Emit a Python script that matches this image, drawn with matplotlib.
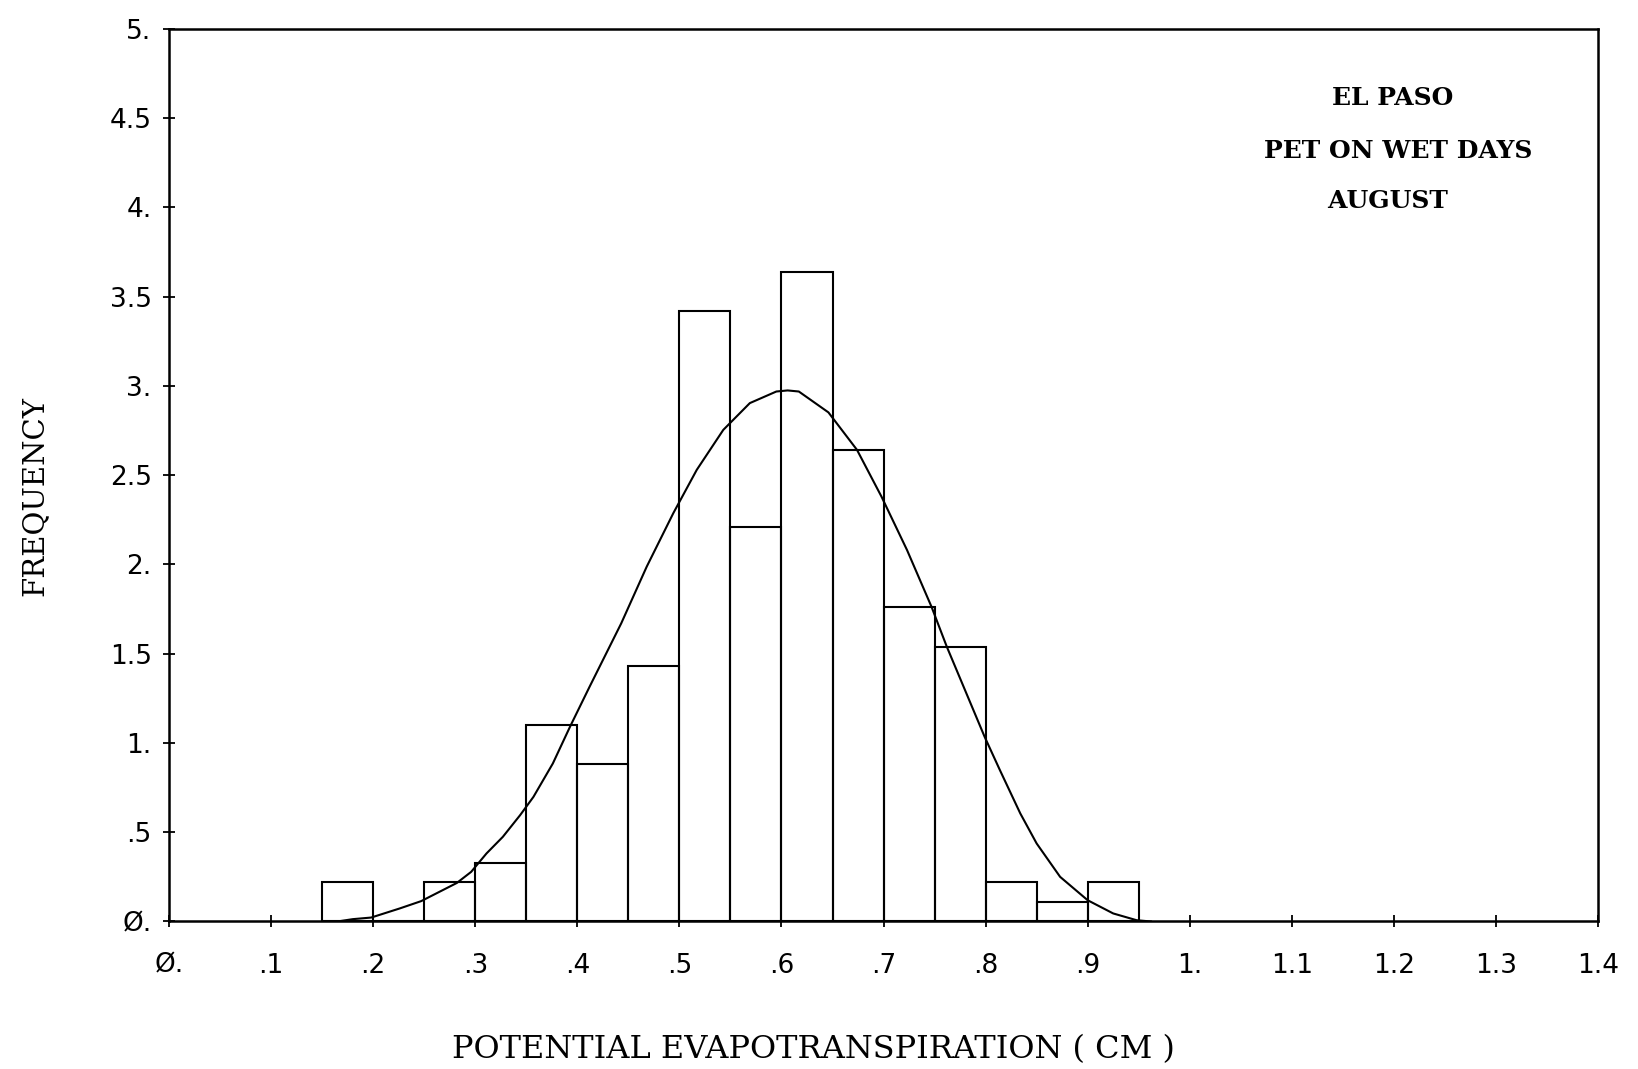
import matplotlib
matplotlib.use("Agg")
import matplotlib.pyplot as plt
import numpy as np

# histogram of PET on wet days, El Paso, August (bin width 0.05 cm)
bin_left = [0.15, 0.20, 0.25, 0.30, 0.35, 0.40, 0.45, 0.50,
            0.55, 0.60, 0.65, 0.70, 0.75, 0.80, 0.85, 0.90]
freq = [0.22, 0.0, 0.22, 0.33, 1.10, 0.88, 1.43, 3.42,
        2.21, 3.64, 2.64, 1.76, 1.54, 0.22, 0.11, 0.22]
bin_width = 0.05

# fitted curve
curve_x = [0.165, 0.180, 0.198, 0.226, 0.247, 0.282, 0.296, 0.311, 0.327,
           0.344, 0.357, 0.376, 0.393, 0.412, 0.443, 0.468, 0.494, 0.517,
           0.543, 0.569, 0.595, 0.606, 0.617, 0.646, 0.674, 0.698, 0.723,
           0.747, 0.762, 0.799, 0.814, 0.834, 0.850, 0.873, 0.900, 0.925,
           0.948, 0.962]
curve_y = [0.0, 0.013, 0.022, 0.073, 0.114, 0.216, 0.278, 0.381, 0.474,
           0.596, 0.698, 0.885, 1.093, 1.315, 1.670, 1.988, 2.287, 2.530,
           2.754, 2.904, 2.969, 2.975, 2.969, 2.852, 2.642, 2.380, 2.081,
           1.763, 1.539, 1.035, 0.848, 0.605, 0.437, 0.250, 0.119, 0.045,
           0.007, 0.0]

xticks = [0.0, 0.1, 0.2, 0.3, 0.4, 0.5, 0.6, 0.7, 0.8, 0.9, 1.0, 1.1, 1.2, 1.3, 1.4]
xtick_labels = ["Ø.", ".1", ".2", ".3", ".4", ".5", ".6", ".7", ".8", ".9",
                "1.", "1.1", "1.2", "1.3", "1.4"]
yticks = [0.0, 0.5, 1.0, 1.5, 2.0, 2.5, 3.0, 3.5, 4.0, 4.5, 5.0]
ytick_labels = ["Ø.", ".5", "1.", "1.5", "2.", "2.5", "3.", "3.5", "4.", "4.5", "5."]

notes = ["EL PASO", "PET ON WET DAYS", "AUGUST"]

fig = plt.figure(figsize=(16.38, 10.69), dpi=100)
ax = fig.add_axes([0.1032, 0.138, 0.8724, 0.8349])

ax.bar(bin_left, freq, width=bin_width, align="edge", fill=False,
       edgecolor="black", linewidth=1.5)
ax.plot(curve_x, curve_y, color="black", linewidth=1.5)

ax.set_xlim(0, 1.4)
ax.set_ylim(0, 5)
ax.set_xticks(xticks)
ax.set_xticklabels(xtick_labels)
ax.set_yticks(yticks)
ax.set_yticklabels(ytick_labels)
ax.tick_params(axis="both", direction="inout", length=9, width=1.3,
               labelsize=19, colors="black")
ax.tick_params(axis="x", pad=18)
ax.tick_params(axis="y", pad=8)
for s in ax.spines.values():
    s.set_linewidth(1.8)

# station / variable notes in upper right
note_x = [1.199, 1.204, 1.194]
note_y = [4.613, 4.314, 4.039]
for t, nx, ny in zip(notes, note_x, note_y):
    ax.text(nx, ny, t, ha="center", va="center", fontsize=18,
            family="DejaVu Serif", fontweight="semibold")

fig.text(0.4963, 0.018, "POTENTIAL EVAPOTRANSPIRATION ( CM )", ha="center",
         va="center", fontsize=23, family="DejaVu Serif")
fig.text(0.021, 0.536, "FREQUENCY", ha="center", va="center", rotation=90,
         fontsize=21, family="DejaVu Serif")

fig.savefig("out.png", dpi=100)
